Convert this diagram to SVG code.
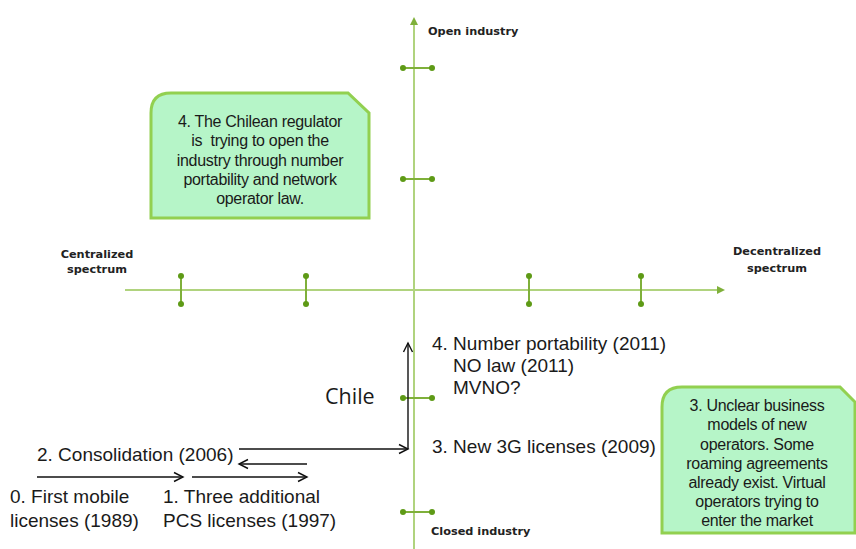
<svg xmlns="http://www.w3.org/2000/svg" width="856" height="549" viewBox="0 0 856 549">
<defs>
<style>
.axis{stroke:#b0d37e;stroke-width:2;fill:none}
.tick{stroke:#7fb03a;stroke-width:2}
.dot{fill:#5e9a16}
.ax{font-family:"DejaVu Sans",Verdana,sans-serif;font-size:11.3px;font-weight:bold;fill:#222}
.note{font-family:"Liberation Sans",Arial,sans-serif;font-size:16px;fill:#1a1a1a;text-anchor:middle;letter-spacing:-0.3px}
.big{font-family:"Liberation Sans",Arial,sans-serif;font-size:19px;fill:#1a1a1a}
.box{fill:#b6f5c8;stroke:#92d050;stroke-width:3}
.arr{stroke:#111;stroke-width:1.4;fill:none}
</style>
<marker id="ga" markerWidth="10" markerHeight="10" refX="5" refY="5" orient="auto" markerUnits="userSpaceOnUse">
<path d="M0,1 L8,5 L0,9 Z" fill="#7fb03a"/>
</marker>
<marker id="oa" markerWidth="12" markerHeight="12" refX="10" refY="6" orient="auto" markerUnits="userSpaceOnUse">
<path d="M1,1.5 L10,6 L1,10.5" fill="none" stroke="#111" stroke-width="1.4"/>
</marker>
</defs>
<rect width="856" height="549" fill="#fff"/>
<g id="axes">
<line class="axis" x1="414" y1="549" x2="414" y2="20" marker-end="url(#ga)"/>
<line class="axis" x1="125" y1="290" x2="722" y2="290" marker-end="url(#ga)"/>
</g>
<g id="ticks">
<line class="tick" x1="181" y1="276" x2="181" y2="304"/><circle class="dot" cx="181" cy="276" r="3"/><circle class="dot" cx="181" cy="304" r="3"/>
<line class="tick" x1="306" y1="276" x2="306" y2="304"/><circle class="dot" cx="306" cy="276" r="3"/><circle class="dot" cx="306" cy="304" r="3"/>
<line class="tick" x1="529" y1="276" x2="529" y2="304"/><circle class="dot" cx="529" cy="276" r="3"/><circle class="dot" cx="529" cy="304" r="3"/>
<line class="tick" x1="641" y1="276" x2="641" y2="304"/><circle class="dot" cx="641" cy="276" r="3"/><circle class="dot" cx="641" cy="304" r="3"/>
<line class="tick" x1="403" y1="68" x2="432" y2="68"/><circle class="dot" cx="403" cy="68" r="3"/><circle class="dot" cx="432" cy="68" r="3"/>
<line class="tick" x1="403" y1="179" x2="432" y2="179"/><circle class="dot" cx="403" cy="179" r="3"/><circle class="dot" cx="432" cy="179" r="3"/>
<line class="tick" x1="403" y1="398" x2="432" y2="398"/><circle class="dot" cx="403" cy="398" r="3"/><circle class="dot" cx="432" cy="398" r="3"/>
<line class="tick" x1="403" y1="512" x2="432" y2="512"/><circle class="dot" cx="403" cy="512" r="3"/><circle class="dot" cx="432" cy="512" r="3"/>
</g>
<g id="axis-labels">
<text class="ax" x="428" y="35">Open industry</text>
<text class="ax" x="431" y="535">Closed industry</text>
<text class="ax" x="97" y="258" text-anchor="middle">Centralized</text>
<text class="ax" x="97" y="273" text-anchor="middle">spectrum</text>
<text class="ax" x="777" y="255" text-anchor="middle">Decentralized</text>
<text class="ax" x="777" y="272" text-anchor="middle">spectrum</text>
</g>
<g id="note-regulator">
<path class="box" d="M151,113 Q151,93 171,93 L348,93 L369,113 L369,218 L151,218 Z"/>
<text class="note" x="260" y="127">4. The Chilean regulator</text>
<text class="note" x="260" y="146" xml:space="preserve">is  trying to open the</text>
<text class="note" x="260" y="166">industry through number</text>
<text class="note" x="260" y="185">portability and network</text>
<text class="note" x="260" y="204">operator law.</text>
</g>
<g id="note-unclear">
<path class="box" d="M662,407 Q662,387 682,387 L840,387 L855,402 L855,533 L662,533 Z"/>
<text class="note" x="757" y="411">3. Unclear business</text>
<text class="note" x="757" y="430">models of new</text>
<text class="note" x="757" y="450">operators. Some</text>
<text class="note" x="757" y="469">roaming agreements</text>
<text class="note" x="757" y="488">already exist. Virtual</text>
<text class="note" x="757" y="507">operators trying to</text>
<text class="note" x="757" y="526">enter the market</text>
</g>
<g id="chile">
<text x="325" y="404" style="font-family:'Open Sans','Liberation Sans',sans-serif;font-size:21.5px;fill:#1a1a1a">Chile</text>
</g>
<g id="stage0">
<text class="big" x="10" y="503">0. First mobile</text>
<text class="big" x="10" y="527">licenses (1989)</text>
</g>
<g id="stage1">
<text class="big" x="163" y="503">1. Three additional</text>
<text class="big" x="163" y="527">PCS licenses (1997)</text>
</g>
<g id="stage2">
<text class="big" x="37" y="461">2. Consolidation (2006)</text>
</g>
<g id="stage3">
<text class="big" x="432" y="453">3. New 3G licenses (2009)</text>
</g>
<g id="stage4">
<text class="big" x="432" y="350">4. Number portability (2011)</text>
<text class="big" x="453" y="372">NO law (2011)</text>
<text class="big" x="453" y="394">MVNO?</text>
</g>
<g id="connectors">
<line class="arr" x1="37" y1="477" x2="183" y2="477" marker-end="url(#oa)"/>
<line class="arr" x1="192" y1="477" x2="307" y2="477" marker-end="url(#oa)"/>
<line class="arr" x1="307" y1="464" x2="239" y2="464" marker-end="url(#oa)"/>
<line class="arr" x1="239" y1="449" x2="408" y2="449" marker-end="url(#oa)"/>
<line class="arr" x1="408" y1="449" x2="408" y2="343" marker-end="url(#oa)"/>
</g>
</svg>
